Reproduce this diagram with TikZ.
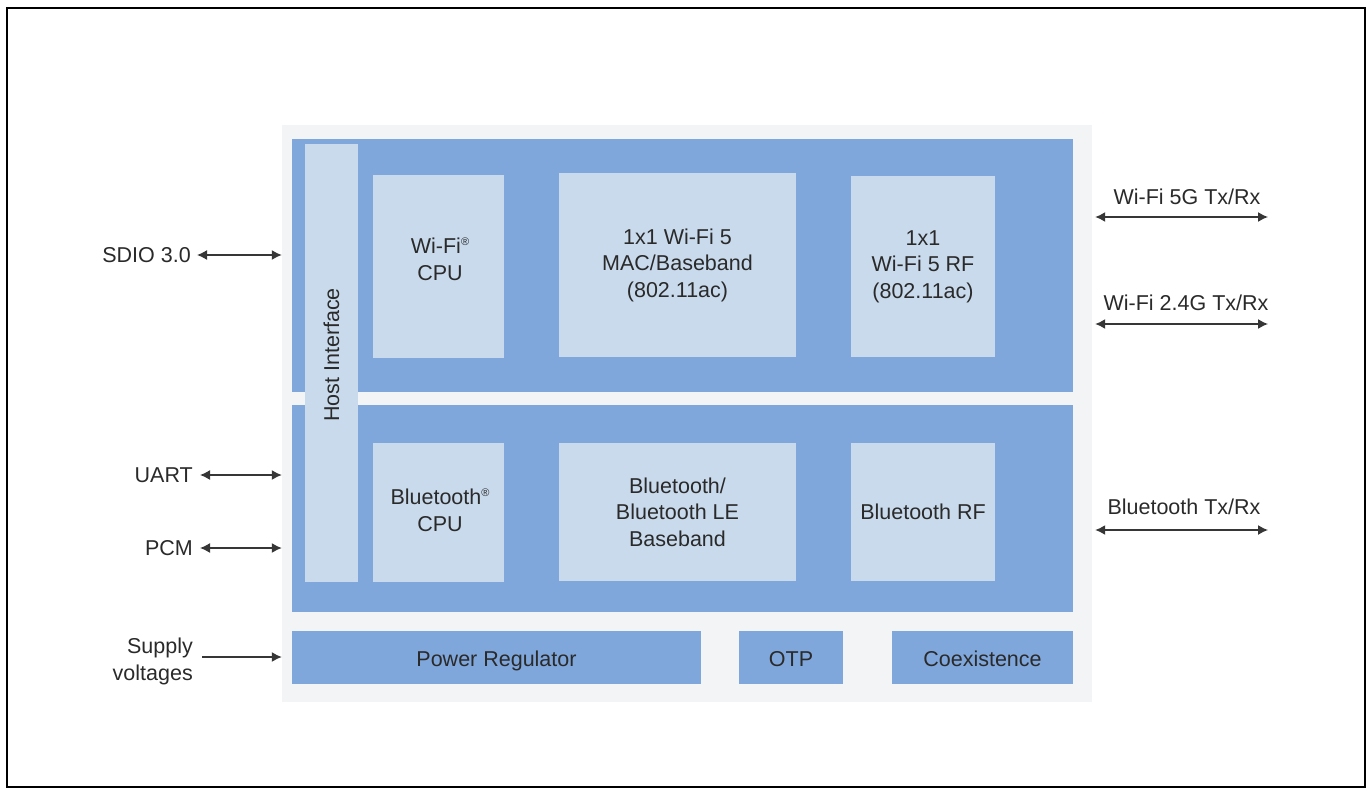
\documentclass[tikz,border=0pt]{standalone}
\usepackage{fontspec}
\setmainfont{Liberation Sans}
\usetikzlibrary{arrows.meta,calc}
\definecolor{panelgrey}{HTML}{F3F4F6}
\definecolor{chipblue}{HTML}{7FA7DB}
\definecolor{boxlight}{HTML}{C9DAEC}
\definecolor{inkgrey}{HTML}{2A2A2A}
\definecolor{arrowgrey}{HTML}{363636}
\newcommand{\regmark}{\raisebox{0.78ex}{\fontsize{11}{11}\selectfont ®}}
\tikzset{
  every node/.style={font=\fontsize{21.5}{26.5}\selectfont, text=inkgrey},
  greypanel/.style={rectangle, fill=panelgrey, draw=none, inner sep=0pt},
  bluebox/.style={rectangle, fill=chipblue, draw=none, inner sep=0pt, align=center},
  bluetextbox/.style={bluebox, text height=18.5pt, text depth=1.5pt},
  lightbox/.style={rectangle, fill=boxlight, draw=none, inner sep=0pt, align=center},
  sidelabel/.style={inner sep=3pt, align=right},
  toplabel/.style={inner sep=0pt},
  biarrow/.style={draw=arrowgrey, line width=1.4pt, {Latex[length=10pt,width=10pt]}-{Latex[length=10pt,width=10pt]}},
  onearrow/.style={draw=arrowgrey, line width=1.4pt, -{Latex[length=10pt,width=10pt]}},
}
\begin{document}
\begin{tikzpicture}[x=1pt, y=-1pt]
\useasboundingbox (0,0) rectangle (1367,789);
\draw[line width=2pt, black] (7,8) rectangle (1365,787);

% chip background
\node[greypanel, minimum width=810pt, minimum height=577pt] (chip) at (687,413.5) {};
\node[bluebox, minimum width=781pt, minimum height=253pt] (wifi) at (682.5,265.5) {};
\node[bluebox, minimum width=781pt, minimum height=207pt] (bt) at (682.5,508.5) {};

% host interface
\node[lightbox, minimum width=53pt, minimum height=438pt] (host) at (331.5,363) {};
\node[rotate=90, inner sep=0pt] (hosttext) at (331.5,355) {Host Interface};

% wifi row
\node[lightbox, minimum width=131pt, minimum height=183pt] (wcpu) at (438.5,266.5) {};
\node[align=center, inner sep=0pt] (wcputext) at (440,259) {Wi-Fi\regmark\\CPU};
\node[lightbox, minimum width=237pt, minimum height=184pt] (wmac) at (677.5,265) {1x1 Wi-Fi 5\\MAC/Baseband\\(802.11ac)};
\node[lightbox, minimum width=144pt, minimum height=181pt] (wrf) at (923,266.5) {1x1\\Wi-Fi 5 RF\\(802.11ac)};

% bluetooth row
\node[lightbox, minimum width=131pt, minimum height=139pt] (bcpu) at (438.5,512.5) {};
\node[align=center, inner sep=0pt] (bcputext) at (440,510) {Bluetooth\regmark\\CPU};
\node[lightbox, minimum width=237pt, minimum height=138pt] (bbb) at (677.5,512) {Bluetooth/\\Bluetooth LE\\Baseband};
\node[lightbox, minimum width=144pt, minimum height=138pt] (brf) at (923,512) {Bluetooth RF};

% bottom row
\node[bluetextbox, minimum width=409pt, minimum height=53pt] (power) at (496.5,657.5) {Power Regulator};
\node[bluetextbox, minimum width=104pt, minimum height=53pt] (otp) at (791,657.5) {OTP};
\node[bluetextbox, minimum width=181pt, minimum height=53pt] (coex) at (982.5,657.5) {Coexistence};

% left side labels and arrows
\node[sidelabel, anchor=east] (sdio) at (194,255) {SDIO 3.0};
\node[sidelabel, anchor=east] (uart) at (196,475) {UART};
\node[sidelabel, anchor=east] (pcm) at (196,548) {PCM};
\node[sidelabel, anchor=east] (supply) at (196,661.5) {Supply\\voltages};
\coordinate (sdioend) at (197,255);
\coordinate (uartend) at (200,475);
\coordinate (pcmend) at (200,548);
\coordinate (supplyend) at (202,657);
\draw[biarrow] (sdioend) -- (sdioend -| chip.west);
\draw[biarrow] (uartend) -- (uartend -| chip.west);
\draw[biarrow] (pcmend) -- (pcmend -| chip.west);
\draw[onearrow] (supplyend) -- (supplyend -| chip.west);

% right side labels and arrows
\node[toplabel] (w5lab) at (1187,197) {Wi-Fi 5G Tx/Rx};
\node[toplabel] (w24lab) at (1186,303) {Wi-Fi 2.4G Tx/Rx};
\node[toplabel] (btlab) at (1184,507) {Bluetooth Tx/Rx};
\coordinate (w5end) at (1268,217);
\coordinate (w24end) at (1268,324);
\coordinate (btend) at (1268,530);
\draw[biarrow] ([xshift=3pt]w5end -| chip.east) -- (w5end);
\draw[biarrow] ([xshift=3pt]w24end -| chip.east) -- (w24end);
\draw[biarrow] ([xshift=3pt]btend -| chip.east) -- (btend);
\end{tikzpicture}
\end{document}
